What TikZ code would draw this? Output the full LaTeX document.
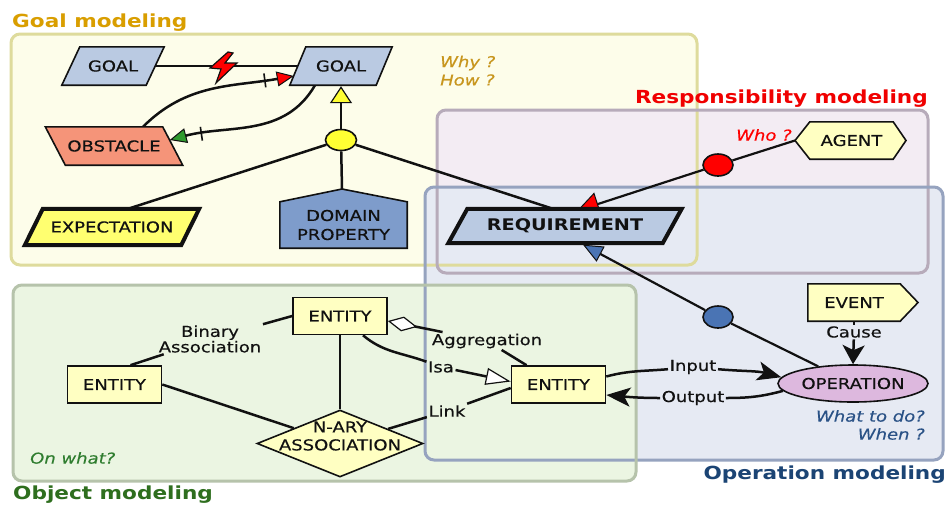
\documentclass[tikz,border=0pt]{standalone}
\usepackage{fontspec}
\setmainfont[FakeStretch=1.2, UprightFeatures={FakeBold=0.4}, ItalicFeatures={FakeBold=0.3}]{DejaVu Sans}
\usetikzlibrary{shapes.geometric,arrows.meta,decorations.markings}
\pgfdeclarelayer{bg}
\pgfdeclarelayer{edges}
\pgfdeclarelayer{shp}
\pgfsetlayers{bg,edges,shp,main}

\definecolor{goalfill}{HTML}{FDFDEA}
\definecolor{goalline}{HTML}{DEDB9C}
\definecolor{respfill}{HTML}{F3ECF3}
\definecolor{respline}{HTML}{B7ABBA}
\definecolor{opfill}{HTML}{E6EAF3}
\definecolor{opline}{HTML}{96A3BF}
\definecolor{objfill}{HTML}{EBF5E2}
\definecolor{objline}{HTML}{B6C3AB}
\definecolor{goaltitle}{HTML}{D99E00}
\definecolor{resptitle}{HTML}{F00000}
\definecolor{optitle}{HTML}{1B4474}
\definecolor{objtitle}{HTML}{2E6E1E}
\definecolor{bluenode}{HTML}{BACAE2}
\definecolor{domnode}{HTML}{7E9CCB}
\definecolor{obsnode}{HTML}{F59479}
\definecolor{expnode}{HTML}{FFFF70}
\definecolor{palenode}{HTML}{FFFFC2}
\definecolor{opnode}{HTML}{DDB8DE}
\definecolor{refyellow}{HTML}{FFFF33}
\definecolor{agred}{HTML}{FF0000}
\definecolor{opblue}{HTML}{4A74B4}
\definecolor{edgegreen}{HTML}{2E9A2E}
\definecolor{whyc}{HTML}{C8961E}
\definecolor{whatc}{HTML}{2A5286}
\definecolor{onwhatc}{HTML}{2F7D2F}
\definecolor{ink}{HTML}{111111}

\tikzset{
  txt/.style={font=\fontsize{15}{18}\selectfont, text=ink},
  plain/.style={txt, inner sep=0pt},
  ent/.style={txt, draw=ink, fill=palenode, line width=1.6pt, inner sep=0pt, minimum width=94pt, minimum height=37pt},
  lbl/.style={txt, inner sep=1.5pt},
  conn/.style={draw=ink, line width=2.5pt},
  region/.style={rounded corners=9pt},
  titletext/.style={font=\fontsize{18}{20}\selectfont\bfseries, inner sep=0pt},
  ask/.style={font=\fontsize{15}{18}\selectfont\itshape, inner sep=0pt},
  dotnode/.style={ellipse, draw=ink, line width=1.6pt, inner sep=0pt, minimum width=30pt, minimum height=22pt},
  crossmark/.style={postaction={decorate}, decoration={markings, mark=at position #1 with {\draw[-, ink, line width=1.6pt] (0pt,-7pt) -- (0pt,7pt);}}},
}

\newcommand\paral[4]{%
  \begin{pgfonlayer}{shp}
  \path[fill=#3, draw=ink, line width=#4, line join=miter]
    ([xshift={(#2)/2}]#1.north west) -- ([xshift={(#2)/2}]#1.north east)
    -- ([xshift={-(#2)/2}]#1.south east) -- ([xshift={-(#2)/2}]#1.south west) -- cycle;
  \end{pgfonlayer}}

\begin{document}
\begin{tikzpicture}[x=1pt, y=-1pt]
\useasboundingbox (0,0) rectangle (949,504);

% ---------- regions ----------
\begin{pgfonlayer}{bg}
  \fill[white] (0,0) rectangle (949,504);
  \fill[goalfill, region] (11,34) rectangle (697,265);
  \fill[respfill, region] (437,110) rectangle (928,273);
  \fill[opfill, region] (425,187) rectangle (943,460);
  \fill[objfill, region] (13,285) rectangle (636,481);
  \draw[goalline, line width=3pt, region] (11,34) rectangle (697,265);
  \draw[respline, line width=3pt, region] (437,110) rectangle (928,273);
  \draw[opline, line width=3pt, region] (425,187) rectangle (943,460);
  \draw[objline, line width=3pt, region] (13,285) rectangle (636,481);
\end{pgfonlayer}

% ---------- titles and questions ----------
\node[titletext, text=goaltitle, anchor=base west] (tgoal) at (12,27) {Goal modeling};
\node[titletext, text=resptitle, anchor=base east] (tresp) at (928,103) {Responsibility modeling};
\node[titletext, text=optitle, anchor=base east] (top) at (946,479) {Operation modeling};
\node[titletext, text=objtitle, anchor=base west] (tobj) at (13,499) {Object modeling};

\node[ask, text=whyc, anchor=west] (why) at (440,63) {Why ?};
\node[ask, text=whyc, anchor=west] (how) at (440,80) {How ?};
\node[ask, text=agred, anchor=west] (who) at (736,135) {Who ?};
\node[ask, text=whatc, anchor=east] (what) at (925,416) {What to do?};
\node[ask, text=whatc, anchor=east] (when) at (925,434) {When ?};
\node[ask, text=onwhatc, anchor=west] (onwhat) at (30,458) {On what?};

% ---------- goal model nodes ----------
\node[plain, minimum width=84pt, minimum height=38pt] (g1) at (113,66) {GOAL};
\paral{g1}{18}{bluenode}{1.6pt}
\node[plain, minimum width=86pt, minimum height=38pt] (g2) at (341,66) {GOAL};
\paral{g2}{16}{bluenode}{1.6pt}
\node[plain, minimum width=117pt, minimum height=38pt] (obs) at (114,146) {OBSTACLE};
\paral{obs}{-20}{obsnode}{1.6pt}
\node[plain, minimum width=156pt, minimum height=36pt] (exp) at (112,227) {EXPECTATION};
\paral{exp}{18}{expnode}{4pt}
\node[plain, minimum width=214pt, minimum height=34pt, font=\fontsize{16}{18}\selectfont\bfseries] (req) at (565,226) {REQUIREMENT};
\paral{req}{19}{bluenode}{4pt}

\node[plain, align=center, minimum width=127pt, minimum height=46pt, font=\fontsize{15}{19}\selectfont] (dom) at (343.5,225) {DOMAIN\\PROPERTY};
\coordinate (domtop) at (342,189);
\begin{pgfonlayer}{shp}
  \path[fill=domnode, draw=ink, line width=1.6pt]
    (dom.south west) -- (dom.north west) -- (domtop) -- (dom.north east) -- (dom.south east) -- cycle;
\end{pgfonlayer}

\node[dotnode, fill=refyellow, minimum width=31pt, minimum height=21pt] (yc) at (341,140) {};

% lightning bolt (conflict)
\begin{pgfonlayer}{shp}
  \path[fill=agred, draw=ink, line width=1.2pt, line join=miter]
    (228,52) -- (233,53) -- (225,63) -- (237,63) -- (216,83) -- (221,69) -- (210,68) -- cycle;
\end{pgfonlayer}

% ---------- responsibility ----------
\node[plain, minimum width=83pt, minimum height=37pt] (ag) at (851.5,140.5) {AGENT};
\coordinate (agl) at (795,140.5);
\coordinate (agr) at (906,140.5);
\begin{pgfonlayer}{shp}
  \path[fill=palenode, draw=ink, line width=1.6pt]
    (agl) -- (ag.north west) -- (ag.north east) -- (agr) -- (ag.south east) -- (ag.south west) -- cycle;
\end{pgfonlayer}
\node[dotnode, fill=agred] (rc) at (718,165) {};

% ---------- operation ----------
\node[plain, minimum width=92pt, minimum height=37pt] (ev) at (854,302.5) {EVENT};
\coordinate (evr) at (918,302.5);
\begin{pgfonlayer}{shp}
  \path[fill=palenode, draw=ink, line width=1.6pt]
    (ev.south west) -- (ev.north west) -- (ev.north east) -- (evr) -- (ev.south east) -- cycle;
\end{pgfonlayer}
\node[txt, ellipse, draw=ink, fill=opnode, line width=1.6pt, inner sep=0pt, minimum width=150pt, minimum height=37pt] (op) at (853,383.5) {OPERATION};
\node[dotnode, fill=opblue] (bc) at (718,317) {};
\node[lbl] (cause) at (854,332) {Cause};
\node[lbl] (inl) at (693,367) {Input};
\node[lbl] (outl) at (693,398) {Output};

% ---------- object model ----------
\node[ent] (e2) at (340,316) {ENTITY};
\node[ent] (e1) at (114.5,384.5) {ENTITY};
\node[ent] (e3) at (558.5,384.5) {ENTITY};
\node[txt, diamond, draw=ink, fill=palenode, line width=1.6pt, inner sep=0pt, minimum width=166pt, minimum height=67pt] (dia) at (340,443.5) {};
\node[txt, align=center, inner sep=0pt] (diat) at (340,436) {N-ARY\\ASSOCIATION};
\node[lbl, align=center, font=\fontsize{15}{13}\selectfont] (binl) at (210,339) {Binary\\Association};
\node[lbl] (aggl) at (487,341) {Aggregation};
\node[lbl] (isal) at (441,367) {Isa};
\node[lbl] (linkl) at (447,411) {Link};

% ---------- connectors ----------
\begin{pgfonlayer}{edges}
  \draw[conn] (g1.east) -- (g2.west);
  \draw[conn, crossmark=0.82, -{Triangle[length=17pt,width=15pt,line width=1pt,fill=agred]}]
    ([xshift=29pt]obs.north) to[out=45,in=190] ([xshift=-4pt,yshift=-10pt]g2.west);
  \draw[conn, crossmark=0.8, -{Triangle[length=17pt,width=15pt,line width=1pt,fill=edgegreen]}]
    ([xshift=-26pt]g2.south) to[out=240,in=15] ([xshift=-3pt,yshift=6pt]obs.east);
  \draw[conn, -{Triangle[length=17pt,width=22pt,line width=1.2pt,fill=refyellow]}] (yc) -- ([yshift=-1pt]g2.south);
  \draw[conn] (yc) -- ([xshift=16pt]exp.north);
  \draw[conn] (yc) -- (domtop);
  \draw[conn] (yc) -- ([xshift=-12pt]req.north);

  \draw[conn, line width=2.2pt] (agl) -- (rc);
  \draw[conn, line width=2.2pt, -{Triangle[length=22pt,width=24pt,line width=1pt,fill=agred]}] (rc) -- ([xshift=12pt,yshift=-2pt]req.north);
  \draw[conn, line width=2.2pt] (op) -- (bc);
  \draw[conn, line width=2.2pt, -{Triangle[length=20pt,width=17pt,line width=1pt,fill=opblue]}] (bc) -- ([xshift=18pt,yshift=-1.5pt]req.south);

  \draw[conn] (ev.south) -- (cause);
  \draw[conn, -{Stealth[length=19pt,width=22pt,inset=5pt]}] (cause) -- (op.north);
  \draw[conn] ([yshift=8pt]e3.east) to[out=15,in=185] (inl);
  \draw[conn, -{Stealth[length=24pt,width=19pt,inset=6pt]}] (inl) to[out=-5,in=165] (op.175);
  \draw[conn] (op.186) to[out=195,in=0] (outl);
  \draw[conn, -{Stealth[length=24pt,width=19pt,inset=6pt]}] (outl) to[out=180,in=-5] ([yshift=-10.5pt]e3.east);

  \draw[conn, {Diamond[length=30pt,width=15pt,line width=1.2pt,fill=white]}-] ([yshift=-5pt]e2.east) -- (aggl);
  \draw[conn] (aggl) -- ([xshift=-32pt]e3.north);
  \draw[conn] ([xshift=23pt]e2.south) to[out=-40,in=160] (isal);
  \draw[conn, -{Triangle[length=25pt,width=17pt,line width=1.2pt,fill=white]}] (isal) -- ([yshift=3pt]e3.west);
  \draw[conn] (dia) -- (linkl);
  \draw[conn] (linkl) -- ([yshift=-3.5pt]e3.west);
  \draw[conn] (e2.west) -- (binl);
  \draw[conn] (binl) -- ([xshift=16pt]e1.north);
  \draw[conn] (e1.east) -- (dia);
  \draw[conn] (e2.south) -- (dia.north);
\end{pgfonlayer}
\end{tikzpicture}
\end{document}
